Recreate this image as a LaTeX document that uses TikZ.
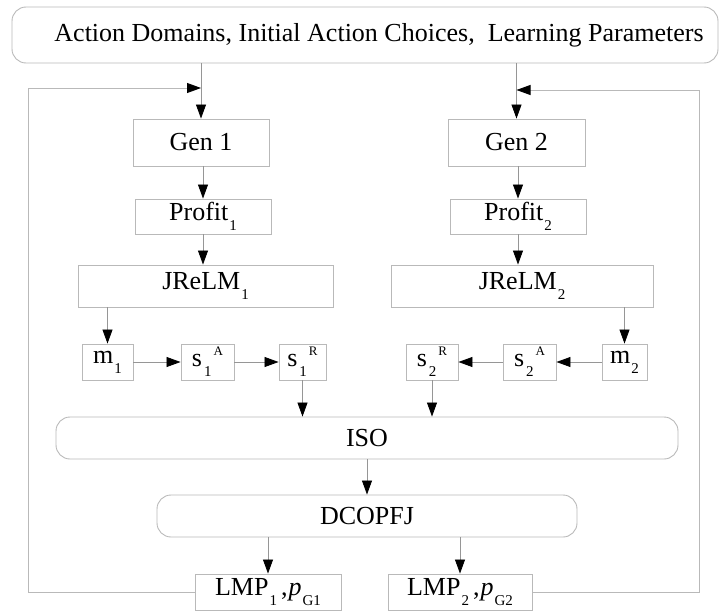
\documentclass[tikz,border=0pt]{standalone}
\usepackage{fontspec}
\setmainfont{Liberation Serif}
\usetikzlibrary{arrows.meta}
\definecolor{boxgray}{RGB}{185,185,185}
\definecolor{linegray}{RGB}{150,150,150}
\newcommand{\lowidx}[1]{\raisebox{-10pt}{\fontsize{15}{16}\selectfont #1}}
\newcommand{\highidx}[1]{\raisebox{11pt}{\fontsize{13}{14}\selectfont #1}}
\newcommand{\sAR}[2]{s\kern2pt\lowidx{#1}\kern2pt\highidx{#2}}
\begin{document}
\begin{tikzpicture}[x=1pt,y=-1pt,
  box/.style={draw=boxgray, line width=0.9pt, inner sep=0pt, align=center,
    font=\fontsize{26}{30}\selectfont},
  rbox/.style={box, rounded corners=14pt},
  arr/.style={draw=linegray, line width=0.8pt,
    -{Triangle[length=14pt,width=10pt,color=black]}},
  fbline/.style={draw=boxgray, line width=0.9pt}]
\useasboundingbox (0,0) rectangle (720,613);
% nodes
\node[rbox, minimum width=706pt, minimum height=56pt] (top) at (365,35)
  {\raisebox{4pt}{\hspace*{28pt}Action Domains, Initial Action Choices,\ \ Learning Parameters}};
\node[box, minimum width=136pt, minimum height=47pt] (gen1) at (201,142.5) {Gen 1};
\node[box, minimum width=137pt, minimum height=47pt] (gen2) at (516.5,142.5) {Gen 2};
\node[box, minimum width=136pt, minimum height=35pt] (profit1) at (203,216.5) {Profit\kern1pt\lowidx{1}};
\node[box, minimum width=136pt, minimum height=35pt] (profit2) at (518,216.5) {Profit\kern1pt\lowidx{2}};
\node[box, minimum width=255pt, minimum height=42pt] (jrelm1) at (205.5,286) {JReLM\kern1pt\lowidx{1}};
\node[box, minimum width=262pt, minimum height=42pt] (jrelm2) at (522,286) {JReLM\kern1pt\lowidx{2}};
\node[box, minimum width=51pt, minimum height=36pt] (m1) at (107.5,362) {m\kern1pt\lowidx{1}};
\node[box, minimum width=53pt, minimum height=36pt] (s1A) at (207.5,362) {\sAR{1}{A}};
\node[box, minimum width=47pt, minimum height=36pt] (s1R) at (302.5,362) {\sAR{1}{R}};
\node[box, minimum width=52pt, minimum height=36pt] (s2R) at (432,362) {\sAR{2}{R}};
\node[box, minimum width=53pt, minimum height=36pt] (s2A) at (529.5,362) {\sAR{2}{A}};
\node[box, minimum width=45pt, minimum height=36pt] (m2) at (624.5,362) {m\kern1pt\lowidx{2}};
\node[rbox, minimum width=622pt, minimum height=42pt] (iso) at (367,438) {ISO};
\node[rbox, minimum width=420pt, minimum height=42pt] (dcopfj) at (367,516) {DCOPFJ};
\node[box, minimum width=146pt, minimum height=36pt] (lmp1) at (268,592)
  {LMP\kern1pt\lowidx{1}\kern4pt,\kern1pt\textit{p}\kern1pt\lowidx{G1}};
\node[box, minimum width=144pt, minimum height=36pt] (lmp2) at (460,592)
  {LMP\kern1pt\lowidx{2}\kern4pt,\kern1pt\textit{p}\kern1pt\lowidx{G2}};
\coordinate (fbL) at (28,88);
\coordinate (fbR) at (699,90);
% connectors
\draw[arr] (top.south -| gen1.north) -- (gen1.north);
\draw[arr] (top.south -| gen2.north) -- (gen2.north);
\draw[arr] (gen1.south -| profit1.north) -- (profit1.north);
\draw[arr] (gen2.south -| profit2.north) -- (profit2.north);
\draw[arr] (profit1.south) -- (profit1.south |- jrelm1.north);
\draw[arr] (profit2.south) -- (profit2.south |- jrelm2.north);
\draw[arr] (jrelm1.south -| m1.north) -- (m1.north);
\draw[arr] (jrelm2.south -| m2.north) -- (m2.north);
\draw[arr] (m1.east) -- (s1A.west);
\draw[arr] (s1A.east) -- (s1R.west);
\draw[arr] (m2.west) -- (s2A.east);
\draw[arr] (s2A.west) -- (s2R.east);
\draw[arr] (s1R.south) -- (s1R.south |- iso.north);
\draw[arr] (s2R.south) -- (s2R.south |- iso.north);
\draw[arr] (iso.south) -- (dcopfj.north);
\draw[arr] (dcopfj.south -| lmp1.north) -- (lmp1.north);
\draw[arr] (dcopfj.south -| lmp2.north) -- (lmp2.north);
\draw[fbline] (lmp1.west) -| (fbL);
\draw[arr, draw=boxgray] (fbL) -- (fbL -| gen1.north);
\draw[fbline] (lmp2.east) -| (fbR);
\draw[arr, draw=boxgray] (fbR) -- (fbR -| gen2.north);
\end{tikzpicture}
\end{document}
